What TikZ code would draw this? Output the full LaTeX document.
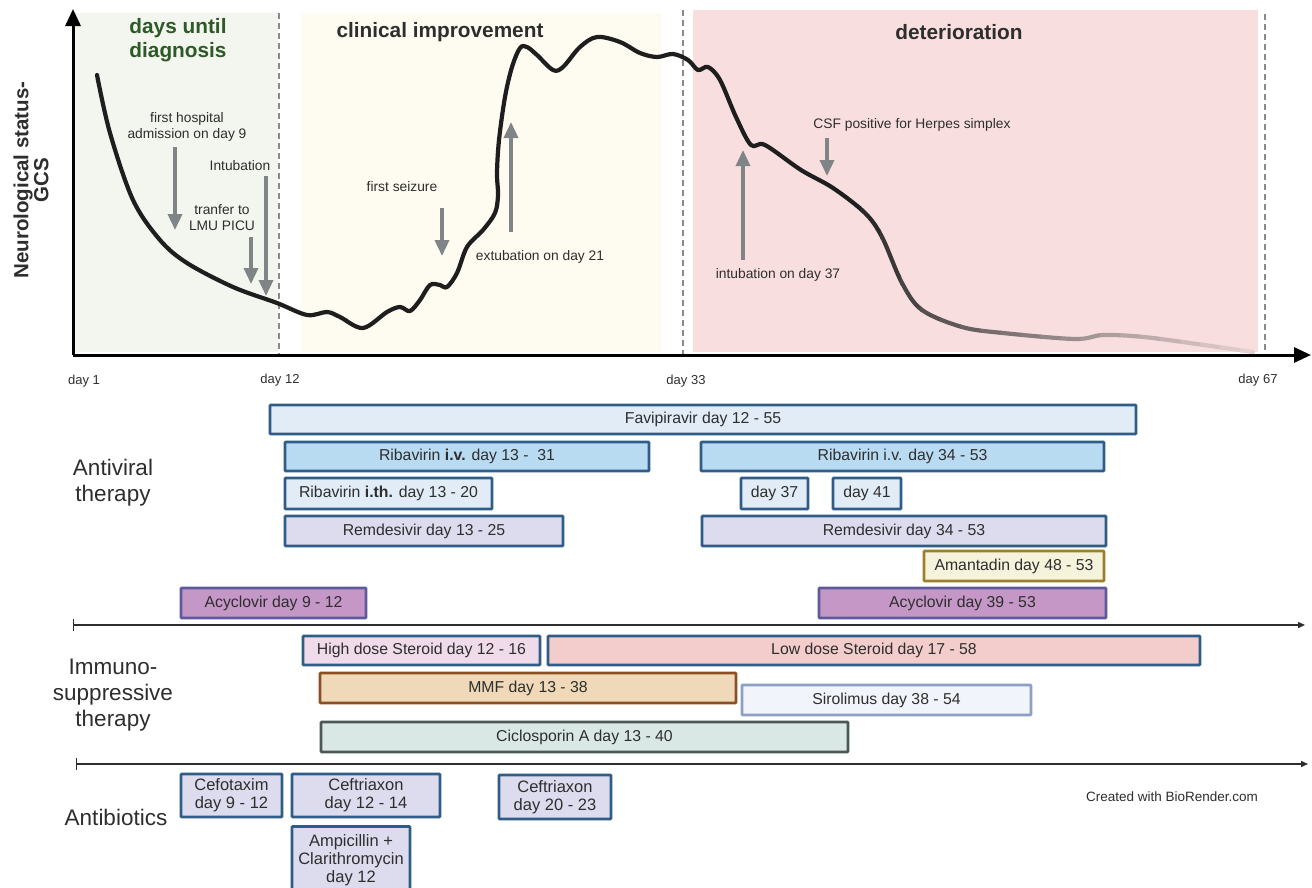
\documentclass[tikz,border=0pt]{standalone}
\usepackage{fontspec}
\setmainfont{Liberation Sans}
\usetikzlibrary{arrows.meta}
\definecolor{greenbg}{HTML}{F3F6EF}
\definecolor{yellowbg}{HTML}{FEFBF1}
\definecolor{pinkbg}{HTML}{F9DEDF}
\definecolor{dashgray}{HTML}{8A8A8A}
\definecolor{arrowgray}{HTML}{7F8486}
\definecolor{titlegreen}{HTML}{2D5A27}
\definecolor{textdark}{HTML}{2E2E2E}
\definecolor{barblue}{HTML}{2F5D87}
\definecolor{lightblue}{HTML}{E2ECF7}
\definecolor{midblue}{HTML}{B9DBF2}
\definecolor{lavender}{HTML}{DDDBEE}
\definecolor{amanfill}{HTML}{F6F3DC}
\definecolor{amanborder}{HTML}{9B7F2F}
\definecolor{acyfill}{HTML}{C497C6}
\definecolor{acyborder}{HTML}{5F5A9E}
\definecolor{hdsfill}{HTML}{F0DBEB}
\definecolor{ldsfill}{HTML}{F3CCCC}
\definecolor{mmffill}{HTML}{EFD9B8}
\definecolor{mmfborder}{HTML}{8B4F22}
\definecolor{sirofill}{HTML}{F1F5FB}
\definecolor{siroborder}{HTML}{8D9FC2}
\definecolor{cicfill}{HTML}{D9E8E4}
\definecolor{cicborder}{HTML}{4D5755}
\definecolor{curvedark}{HTML}{1E1E1E}
\definecolor{curvelight}{HTML}{EAD4D4}
\newcommand\drawcurve[1]{\draw[#1] plot[smooth,tension=0.55] coordinates {(97,75) (110,133) (133,200) (160,240) (187,263) (233,287) (277,303) (307,315) (327,312) (340,317) (363,328) (387,312) (400,307) (410,311) (420,300) (430,285) (440,285) (447,287) (457,273) (467,247) (483,230) (495,213) (498,195) (497,173) (499,140) (505,97) (512,67) (520,48) (527,47) (537,55) (553,70) (563,67) (580,47) (597,37) (620,42) (640,53) (657,57) (673,54) (688,60) (698,70) (708,67) (720,80) (736,117) (751,145) (765,145) (801,170) (833,188) (865,213) (882,237) (902,283) (922,310) (962,327) (1003,333) (1075,339) (1103,335) (1144,337) (1204,345) (1253,352)};}
\begin{document}
\begin{tikzpicture}[x=1pt,y=-1pt,
  ann/.style={text=textdark,font=\fontsize{13.8}{16}\selectfont,align=center,inner sep=0},
  annarrow/.style={draw=arrowgray,line width=3.5pt,-{Triangle[width=14pt,length=16pt]}},
  vdash/.style={draw=dashgray,line width=2.5pt,dash pattern=on 6pt off 4pt},
  axis/.style={draw=black,line width=3pt,-{Triangle[width=15pt,length=17pt]}},
  sep/.style={draw=textdark,line width=1.4pt,{Bar[width=12pt]}-{Triangle[width=6pt,length=7pt]}},
  curve/.style={line width=4.2pt,line cap=round,line join=round},
  bigtitle/.style={font=\fontsize{20.8}{24}\selectfont\bfseries,text=textdark,align=center,inner sep=0},
  section/.style={font=\fontsize{22.5}{26}\selectfont,text=textdark,align=center,inner sep=0},
  daylab/.style={font=\fontsize{13}{15}\selectfont,text=textdark,inner sep=0},
  bar/.style={draw=barblue,line width=2.6pt,text=textdark,font=\fontsize{15.8}{18}\selectfont,align=center,inner sep=0,rounded corners=0.8pt},
  abbar/.style={bar,fill=lavender,font=\fontsize{16.5}{18}\selectfont}
]
\useasboundingbox (0,0) rectangle (1312,887);
\fill[white] (0,0) rectangle (1312,887);
% phase backgrounds
\fill[greenbg] (75,13) rectangle (278,352);
\fill[yellowbg] (301,13) rectangle (662,352);
\fill[pinkbg] (693,10) rectangle (1258,352);
\draw[vdash] (279,13) -- (279,355);
\draw[vdash] (683,10) -- (683,355);
\draw[vdash] (1265,14) -- (1265,355);
% axes
\coordinate (origin) at (73,355);
\coordinate (ytop) at (73,9);
\coordinate (xend) at (1311,355);
\draw[axis] (origin) -- (ytop);
\draw[axis] (origin) -- (xend);
% curve
\begin{scope}\clip (0,0) rectangle (861,400); \drawcurve{curve,draw=curvedark}\end{scope}
\foreach \i in {0,...,19}{
  \pgfmathsetmacro\xa{860+20*\i}
  \pgfmathsetmacro\xb{\xa+21}
  \pgfmathtruncatemacro\p{100*((\i+0.5)/20)^0.75}
  \begin{scope}\clip (\xa,0) rectangle (\xb,400); \drawcurve{curve,draw=curvelight!\p!curvedark}\end{scope}
}
% titles
\node[bigtitle,text=titlegreen] (tdays) at (178,40) {days until\\diagnosis};
\node[bigtitle] (tclin) at (440,32) {clinical improvement};
\node[bigtitle] (tdet) at (959,32) {deterioration};
\node[bigtitle,rotate=90,font=\fontsize{20.5}{20}\selectfont\bfseries] (ylab) at (31,180) {Neurological status-\\GCS};
% day labels
\node[daylab] (d1) at (84,381) {day 1};
\node[daylab] (d12) at (280,380) {day 12};
\node[daylab] (d33) at (686,381) {day 33};
\node[daylab] (d67) at (1258,380) {day 67};
% annotations
\node[ann] (nadm) at (187,127) {first hospital\\admission on day 9};
\coordinate (a1s) at (175,147); \coordinate (a1e) at (175,230);
\draw[annarrow] (a1s) -- (a1e);
\node[ann] (nint) at (240,166) {Intubation};
\coordinate (a2s) at (266,176); \coordinate (a2e) at (266,296);
\draw[annarrow] (a2s) -- (a2e);
\node[ann] (ntr) at (222,218) {tranfer to\\LMU PICU};
\coordinate (a3s) at (251,237); \coordinate (a3e) at (251,284);
\draw[annarrow] (a3s) -- (a3e);
\node[ann] (nsz) at (402,187) {first seizure};
\coordinate (a4s) at (442,208); \coordinate (a4e) at (442,256);
\draw[annarrow] (a4s) -- (a4e);
\node[ann] (next) at (540,257) {extubation on day 21};
\coordinate (a5s) at (511,232); \coordinate (a5e) at (511,122);
\draw[annarrow] (a5s) -- (a5e);
\node[ann] (nint2) at (778,275) {intubation on day 37};
\coordinate (a6s) at (743,260); \coordinate (a6e) at (743,150);
\draw[annarrow] (a6s) -- (a6e);
\node[ann] (ncsf) at (912,125) {CSF positive for Herpes simplex};
\coordinate (a7s) at (827,138); \coordinate (a7e) at (827,176);
\draw[annarrow] (a7s) -- (a7e);
% antiviral
\node[section] (santi) at (113,483) {Antiviral\\therapy};
\node[bar,fill=lightblue,minimum width=866pt,minimum height=29pt] (fav) at (703,419.5) {Favipiravir day 12 - 55};
\node[bar,fill=midblue,minimum width=364pt,minimum height=29pt] (rib1) at (467,456.5) {Ribavirin \textbf{i.v.} day 13 -\ \ 31};
\node[bar,fill=midblue,minimum width=403pt,minimum height=29pt] (rib2) at (902.5,456.5) {Ribavirin i.v. day 34 - 53};
\node[bar,fill=lightblue,minimum width=207pt,minimum height=31pt] (ribth) at (388.5,493.5) {Ribavirin \textbf{i.th.} day 13 - 20};
\node[bar,fill=lightblue,minimum width=67pt,minimum height=31pt] (d37) at (774.5,493.5) {day 37};
\node[bar,fill=lightblue,minimum width=68pt,minimum height=31pt] (d41) at (867,493.5) {day 41};
\node[bar,fill=lavender,minimum width=278pt,minimum height=30pt] (rem1) at (424,531) {Remdesivir day 13 - 25};
\node[bar,fill=lavender,minimum width=404pt,minimum height=30pt] (rem2) at (904,531) {Remdesivir day 34 - 53};
\node[bar,draw=amanborder,fill=amanfill,minimum width=180pt,minimum height=30pt] (aman) at (1014,566) {Amantadin day 48 - 53};
\node[bar,draw=acyborder,fill=acyfill,minimum width=185pt,minimum height=30pt] (acy1) at (273.5,603) {Acyclovir day 9 - 12};
\node[bar,draw=acyborder,fill=acyfill,minimum width=287pt,minimum height=30pt] (acy2) at (962.5,603) {Acyclovir day 39 - 53};
\coordinate (s1a) at (73,625); \coordinate (s1b) at (1305,625);
\draw[sep] (s1a) -- (s1b);
% immunosuppressive
\node[section] (simm) at (113,695) {Immuno-\\suppressive\\therapy};
\node[bar,fill=hdsfill,minimum width=237pt,minimum height=29pt] (hds) at (421.5,650.5) {High dose Steroid day 12 - 16};
\node[bar,fill=ldsfill,minimum width=652pt,minimum height=29pt] (lds) at (874,650.5) {Low dose Steroid day 17 - 58};
\node[bar,draw=mmfborder,fill=mmffill,minimum width=416pt,minimum height=30pt] (mmf) at (528,688) {MMF day 13 - 38};
\node[bar,draw=siroborder,fill=sirofill,minimum width=289pt,minimum height=30pt] (siro) at (886.5,700) {Sirolimus day 38 - 54};
\node[bar,draw=cicborder,fill=cicfill,minimum width=527pt,minimum height=30pt] (cic) at (584.5,737) {Ciclosporin A day 13 - 40};
\coordinate (s2a) at (76,764); \coordinate (s2b) at (1308,764);
\draw[sep] (s2a) -- (s2b);
% antibiotics
\node[section] (sab) at (116,817) {Antibiotics};
\node[abbar,minimum width=101pt,minimum height=43pt] (cef) at (231.5,795.5) {Cefotaxim\\day 9 - 12};
\node[abbar,minimum width=148pt,minimum height=43pt] (cft1) at (366,795.5) {Ceftriaxon\\day 12 - 14};
\node[abbar,minimum width=112pt,minimum height=44pt] (cft2) at (555,797) {Ceftriaxon\\day 20 - 23};
\node[abbar,minimum width=118pt,minimum height=67pt] (amp) at (351,860) {Ampicillin +\\Clarithromycin\\day 12};
\node[ann,font=\fontsize{13.5}{16}\selectfont] (credit) at (1172,797) {Created with BioRender.com};
\end{tikzpicture}
\end{document}
